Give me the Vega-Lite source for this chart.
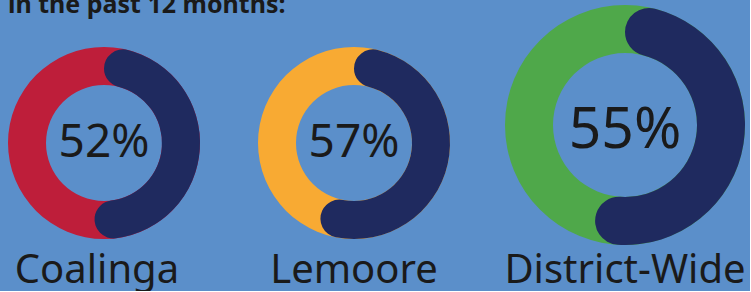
{
  "$schema": "https://vega.github.io/schema/vega-lite/v6.json",
  "background": "#5b8fca",
  "padding": {"left": 0, "right": 0, "top": -7, "bottom": 0},
  "bounds": "flush",
  "spacing": 0,
  "data": {"values": [
    {"site": "Coalinga", "pct": 52, "label": "52%"},
    {"site": "Lemoore", "pct": 57, "label": "57%"},
    {"site": "District-Wide", "pct": 55, "label": "55%"}
  ]},
  "config": {"view": {"stroke": null}},
  "hconcat": [
    {
      "width": 208, "height": 286,
      "transform": [{"filter": "datum.site === 'Coalinga'"}],
      "layer": [
        {"mark": {"type": "arc", "radius": 96, "radius2": 58, "theta": 0, "theta2": 6.2832, "color": "#be1e3a"}, "encoding": {}},
        {"mark": {"type": "arc", "radius": 96, "radius2": 58, "cornerRadius": 19, "color": "#1f2a5f"},
         "encoding": {"theta": {"field": "pct", "type": "quantitative", "scale": {"domain": [0, 100]}}}},
        {"mark": {"type": "text", "fontSize": 46, "dy": 14, "baseline": "alphabetic", "font": "Noto Sans", "color": "#1a1a1a"},
         "encoding": {"text": {"field": "label"}}},
        {"mark": {"type": "text", "fontSize": 40, "dy": 140, "dx": -7, "baseline": "alphabetic", "font": "Noto Sans", "color": "#1a1a1a"},
         "encoding": {"text": {"field": "site"}}},
        {"mark": {"type": "text", "text": "in the past 12 months:", "align": "left", "baseline": "alphabetic", "fontSize": 25, "fontWeight": "bold", "font": "Noto Sans", "color": "#1a1a1a", "dx": -96, "dy": -130}}
      ]
    },
    {
      "width": 292, "height": 286,
      "transform": [{"filter": "datum.site === 'Lemoore'"}],
      "layer": [
        {"mark": {"type": "arc", "radius": 96, "radius2": 58, "theta": 0, "theta2": 6.2832, "color": "#f8aa33"}, "encoding": {}},
        {"mark": {"type": "arc", "radius": 96, "radius2": 58, "cornerRadius": 19, "color": "#1f2a5f"},
         "encoding": {"theta": {"field": "pct", "type": "quantitative", "scale": {"domain": [0, 100]}}}},
        {"mark": {"type": "text", "fontSize": 46, "dy": 14, "baseline": "alphabetic", "font": "Noto Sans", "color": "#1a1a1a"},
         "encoding": {"text": {"field": "label"}}},
        {"mark": {"type": "text", "fontSize": 40, "dy": 140, "baseline": "alphabetic", "font": "Noto Sans", "color": "#1a1a1a"},
         "encoding": {"text": {"field": "site"}}}
      ]
    },
    {
      "width": 250, "height": 250,
      "transform": [{"filter": "datum.site === 'District-Wide'"}],
      "layer": [
        {"mark": {"type": "arc", "radius": 120, "radius2": 72, "theta": 0, "theta2": 6.2832, "color": "#4fa84a"}, "encoding": {}},
        {"mark": {"type": "arc", "radius": 120, "radius2": 72, "cornerRadius": 24, "color": "#1f2a5f"},
         "encoding": {"theta": {"field": "pct", "type": "quantitative", "scale": {"domain": [0, 100]}}}},
        {"mark": {"type": "text", "fontSize": 57, "dy": 23, "baseline": "alphabetic", "font": "Noto Sans", "color": "#1a1a1a"},
         "encoding": {"text": {"field": "label"}}},
        {"mark": {"type": "text", "fontSize": 40, "dy": 158, "baseline": "alphabetic", "font": "Noto Sans", "color": "#1a1a1a"},
         "encoding": {"text": {"field": "site"}}}
      ]
    }
  ]
}
